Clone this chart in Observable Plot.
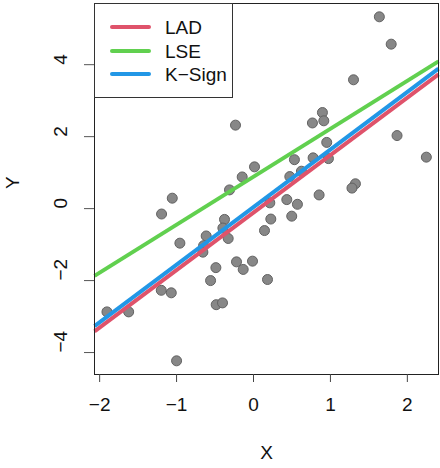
<!DOCTYPE html>
<html>
<head>
<meta charset="utf-8">
<script src="https://cdn.jsdelivr.net/npm/d3@7"></script>
<script src="https://cdn.jsdelivr.net/npm/@observablehq/plot@0.6"></script>
<style>
  html, body { margin: 0; padding: 0; background: #fff; }
  #wrap { position: relative; width: 440px; height: 468px; font-family: "Liberation Sans", Arial, Helvetica, sans-serif; }
  #legend { position: absolute; left: 94px; top: 3px; width: 139px; height: 95px; border: 1px solid #333; background: #fff; box-sizing: border-box; }
  #legend svg { position: absolute; left: 0; top: 0; }
</style>
</head>
<body>
<div id="wrap"></div>
<script>
// Data points (X, Y)
const xs = [1.636, 1.79, 1.30, 0.896, 0.766, 0.914, 1.866, 0.952, 2.247, 0.532,
            0.775, 0.974, 0.623, 0.472, 1.325, 1.28, 0.853, 0.212, 0.433, 0.571,
            0.225, 0.497, 0.143, -0.234, 0.013, -0.147, -0.312, -1.056, -1.195, -0.377,
            -0.398, -0.615, -0.957, -0.649, -0.658, -0.329, -0.489, -0.558, -0.221, -0.134,
            -0.013, -0.485, -0.403, 0.182, -1.905, -1.623, -1.199, -1.069, -1.0];
const ys = [5.33, 4.57, 3.58, 2.67, 2.38, 2.44, 2.03, 1.84, 1.43, 1.36,
            1.41, 1.39, 1.04, 0.89, 0.69, 0.57, 0.38, 0.16, 0.25, 0.12,
            -0.29, -0.21, -0.61, 2.32, 1.16, 0.88, 0.52, 0.29, -0.15, -0.30,
            -0.54, -0.76, -0.96, -1.03, -1.21, -0.83, -1.64, -2.0, -1.48, -1.69,
            -1.46, -2.67, -2.62, -1.97, -2.87, -2.87, -2.27, -2.34, -4.23];

// Fitted lines
const methods = ["LAD", "LSE", "K\u2212Sign"];
const intercepts = [-0.11, 0.885, 0.04];
const slopes = [1.597, 1.333, 1.600];
const colors = ["#DF536B", "#61D04F", "#2297E6"];

// Axis ticks
const xTicks = [-2, -1, 0, 1, 2];
const xTickLabels = ["\u22122", "\u22121", "0", "1", "2"];
const yTicks = [-4, -2, 0, 2, 4];
const yTickLabels = ["\u22124", "\u22122", "0", "2", "4"];

const xDomain = [-2.067, 2.405];
const yDomain = [-4.61, 5.70];

const points = xs.map((x, i) => ({x, y: ys[i]}));
const lines = methods.map((m, i) => ({
  method: m,
  x1: xDomain[0], y1: intercepts[i] + slopes[i] * xDomain[0],
  x2: xDomain[1], y2: intercepts[i] + slopes[i] * xDomain[1],
  color: colors[i]
}));

const fontFamily = '"Liberation Sans", Arial, Helvetica, sans-serif';
const fs = 19;

const chart = Plot.plot({
  width: 440,
  height: 468,
  marginLeft: 94,
  marginRight: 2,
  marginTop: 3,
  marginBottom: 94,
  style: {fontFamily, fontSize: fs + "px", color: "#000", background: "#fff"},
  x: {domain: xDomain, axis: null},
  y: {domain: yDomain, axis: null},
  marks: [
    Plot.dot(points, {x: "x", y: "y", r: 5, fill: "#878787", stroke: "#626262", strokeWidth: 1}),
    Plot.link(lines, {x1: "x1", y1: "y1", x2: "x2", y2: "y2", stroke: "color", strokeWidth: 4, strokeLinecap: "butt"}),
    Plot.frame({stroke: "#222", strokeWidth: 1}),
    Plot.axisX({ticks: xTicks, tickSize: 8, tickFormat: () => "", label: null, stroke: "#444"}),
    Plot.axisY({ticks: yTicks, tickSize: 10, tickFormat: () => "", label: null, stroke: "#555"}),
    Plot.text(xTicks, {x: d => d, text: (d, i) => xTickLabels[i], frameAnchor: "bottom", dy: 36, fontSize: fs, fill: "#111"}),
    Plot.text(yTicks, {y: d => d, text: (d, i) => yTickLabels[i], frameAnchor: "left", dx: -34, rotate: -90, fontSize: fs, fill: "#111"}),
    Plot.text(["X"], {text: d => d, frameAnchor: "bottom", dy: 84, fontSize: fs, fill: "#111"}),
    Plot.text(["Y"], {text: d => d, frameAnchor: "left", dx: -82, rotate: -90, fontSize: fs, fill: "#111"})
  ]
});

const wrap = document.getElementById("wrap");
wrap.appendChild(chart);

// Legend
const legend = document.createElement("div");
legend.id = "legend";
const ns = "http://www.w3.org/2000/svg";
const lsvg = document.createElementNS(ns, "svg");
lsvg.setAttribute("width", 139);
lsvg.setAttribute("height", 95);
const rowY = [23, 47, 70];
methods.forEach((m, i) => {
  const ln = document.createElementNS(ns, "line");
  ln.setAttribute("x1", 17); ln.setAttribute("x2", 54);
  ln.setAttribute("y1", rowY[i]); ln.setAttribute("y2", rowY[i]);
  ln.setAttribute("stroke", colors[i]); ln.setAttribute("stroke-width", 4);
  ln.setAttribute("stroke-linecap", "round");
  lsvg.appendChild(ln);
  const t = document.createElementNS(ns, "text");
  t.setAttribute("x", 70); t.setAttribute("y", rowY[i]);
  t.setAttribute("dy", "0.35em");
  t.setAttribute("font-size", fs);
  t.setAttribute("font-family", fontFamily);
  t.setAttribute("fill", "#111");
  t.textContent = m;
  lsvg.appendChild(t);
});
legend.appendChild(lsvg);
wrap.appendChild(legend);
</script>
</body>
</html>
